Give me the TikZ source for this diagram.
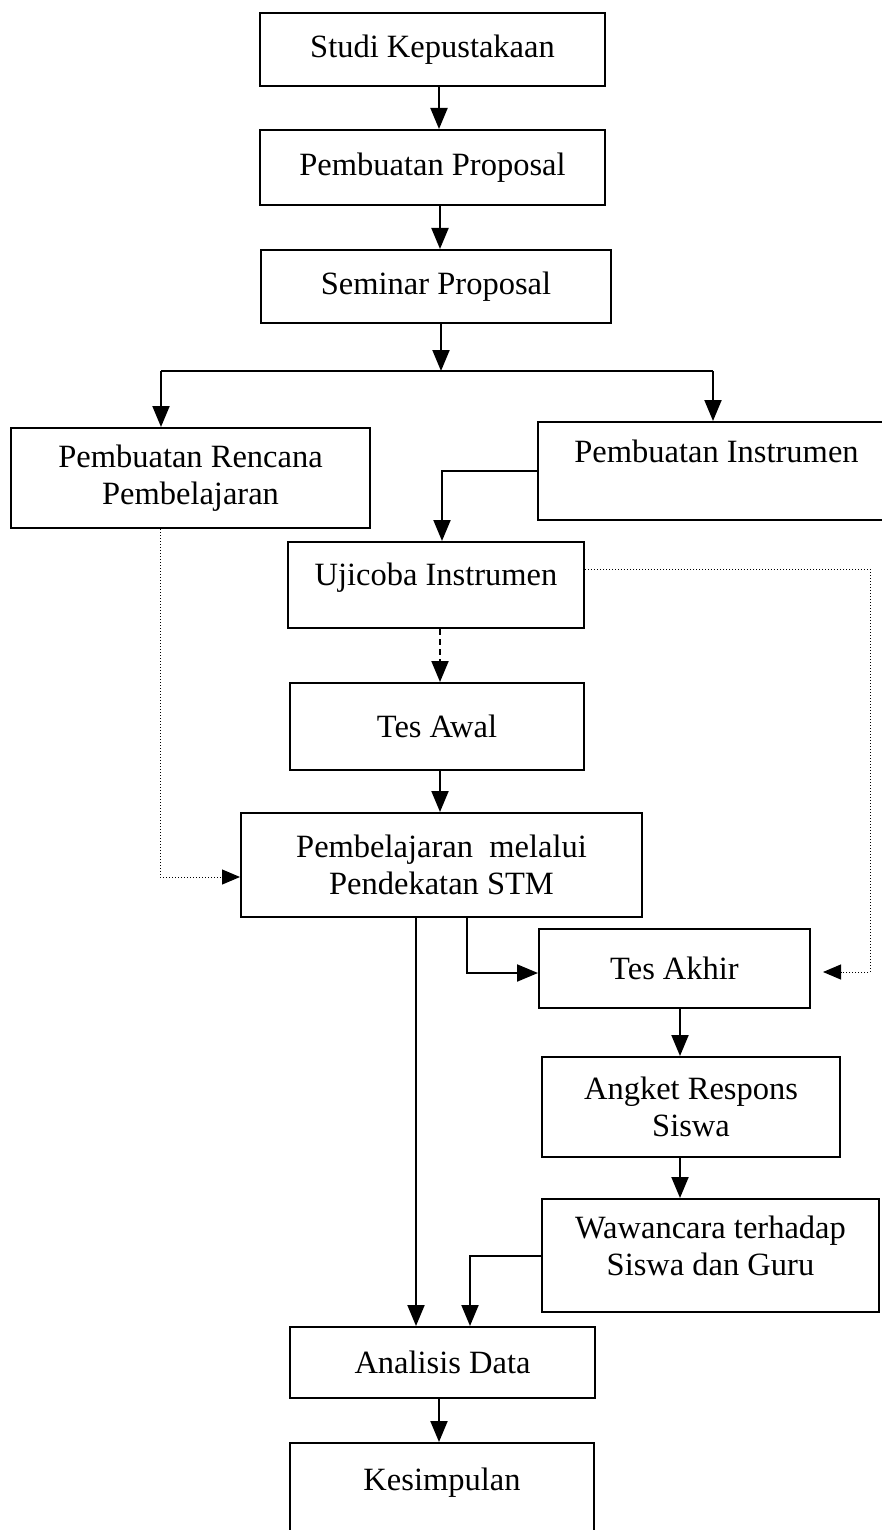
\documentclass[tikz,border=0pt]{standalone}
\usepackage{fontspec}
\setmainfont{Liberation Serif}
\usetikzlibrary{arrows.meta}
\begin{document}
\begin{tikzpicture}[x=1pt,y=-1pt,
  box/.style={draw,line width=2pt,align=center,inner sep=0pt,
    font=\fontsize{32.5}{37}\selectfont},
  arr/.style={line width=2pt,-{Triangle[length=21pt,width=17pt]}},
  dotarr/.style={line width=1pt,dotted,-{Triangle[length=18pt,width=15pt]}},
  conn/.style={line width=2pt}]
\useasboundingbox (0,0) rectangle (882,1530);
\node[box,minimum width=345pt,minimum height=73pt] (studi) at (432.5,49.5) {Studi Kepustakaan};
\node[box,minimum width=345pt,minimum height=75pt] (prop) at (432.5,167.5) {Pembuatan Proposal};
\node[box,minimum width=350pt,minimum height=73pt] (sem) at (436,286.5) {Seminar Proposal};
\node[box,minimum width=359pt,minimum height=100pt] (renc) at (190.5,478) {Pembuatan Rencana\\Pembelajaran};
\node[box,minimum width=357pt,minimum height=98pt,text depth=40pt] (instr) at (716.5,471) {Pembuatan Instrumen};
\node[box,minimum width=296pt,minimum height=86pt,text depth=22pt] (uji) at (436,585) {Ujicoba Instrumen};
\node[box,minimum width=294pt,minimum height=87pt] (awal) at (437,726.5) {Tes Awal};
\node[box,minimum width=401pt,minimum height=104pt] (pemb) at (441.5,865) {Pembelajaran\ \ melalui\\Pendekatan STM};
\node[box,minimum width=271pt,minimum height=79pt] (akhir) at (674.5,968.5) {Tes Akhir};
\node[box,minimum width=298pt,minimum height=100pt] (angket) at (691,1107) {Angket Respons\\Siswa};
\node[box,minimum width=337pt,minimum height=113pt,text depth=20pt] (waw) at (710.5,1255.5) {Wawancara terhadap\\Siswa dan Guru};
\node[box,minimum width=305pt,minimum height=71pt] (anal) at (442.5,1362.5) {Analisis Data};
\node[box,minimum width=304pt,minimum height=117pt,text depth=44pt] (kes) at (442,1501.5) {Kesimpulan};

\coordinate (split) at (441,371);
\coordinate (tipR) at (823,972);

\draw[arr] (studi.south -| 439,0) -- (prop.north -| 439,0);
\draw[arr] (prop.south -| 440,0) -- (sem.north -| 440,0);
\draw[arr] (sem.south -| 441,0) -- (split);
\draw[conn] (161,371) -- (713,371);
\draw[arr] (161,371) -- (renc.north -| 161,0);
\draw[arr] (713,371) -- (instr.north -| 713,0);
\draw[arr] (instr.west |- 0,471) -| (uji.north -| 442,0);
\draw[line width=2pt,dashed,dash pattern=on 6pt off 4pt] (uji.south -| 440,0) -- (440,665);
\draw[arr] (440,663) -- (awal.north -| 440,0);
\draw[arr] (awal.south -| 440,0) -- (pemb.north -| 440,0);
\draw[dotarr] (renc.south -| 160,0) |- (pemb.west |- 0,877);
\draw[dotarr] (uji.east |- 0,569) -| (870,972) -- (tipR);
\draw[arr] (pemb.south -| 416,0) -- (anal.north -| 416,0);
\draw[arr] (pemb.south -| 467,0) |- (akhir.west |- 0,973);
\draw[arr] (akhir.south -| 680,0) -- (angket.north -| 680,0);
\draw[arr] (angket.south -| 680,0) -- (waw.north -| 680,0);
\draw[arr] (waw.west |- 0,1256) -| (anal.north -| 470,0);
\draw[arr] (anal.south -| 439,0) -- (kes.north -| 439,0);
\end{tikzpicture}
\end{document}
